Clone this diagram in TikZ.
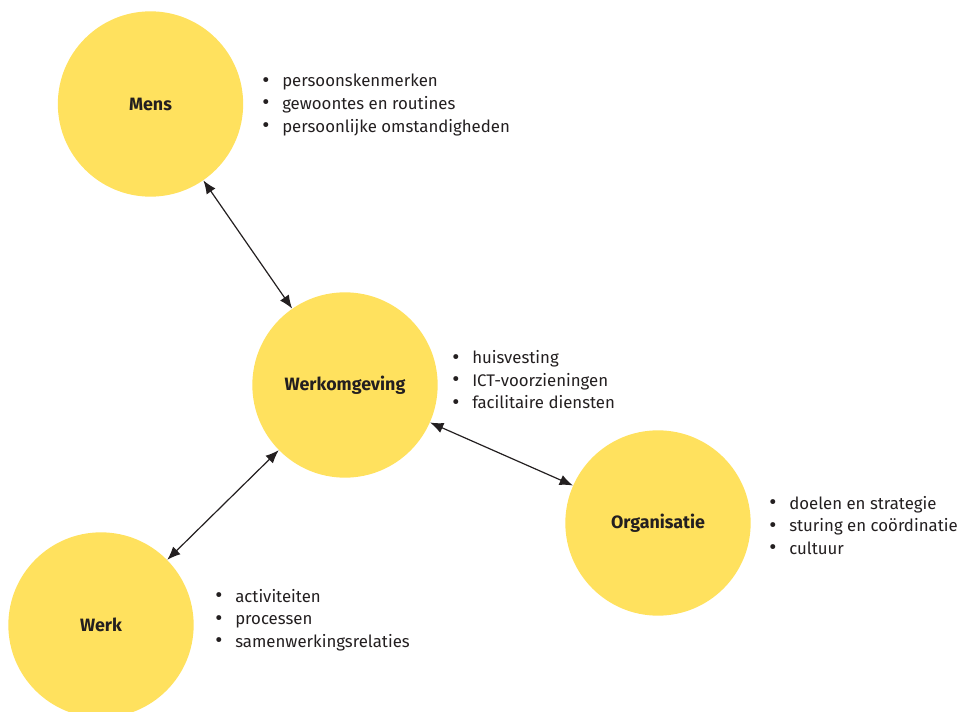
\documentclass[tikz,border=0pt]{standalone}
\usepackage{fontspec}
\setmainfont{Fira Sans}
\usepackage{xcolor}
\usetikzlibrary{arrows.meta,positioning}
\definecolor{mYellow}{RGB}{255,225,94}
\definecolor{mInk}{RGB}{35,31,32}
\newcommand{\li}{\makebox[15pt][l]{\raisebox{-0.3pt}{\scalebox{1.3}{\textbullet}}}}
\tikzset{
bubble/.style={circle,fill=mYellow,draw=none,minimum size=139pt,inner sep=0pt,font=\bfseries\fontsize{13.4}{16}\selectfont,text=mInk},
itemlist/.style={anchor=west,align=left,inner sep=0pt,font=\fontsize{12.6}{16.9}\selectfont,text=mInk},
link/.style={{Latex[length=10pt,width=8pt]}-{Latex[length=10pt,width=8pt]},line width=0.9pt,draw=mInk}
}
\begin{document}
\begin{tikzpicture}[x=0.75pt,y=-0.75pt]
\useasboundingbox (0,0) rectangle (961,712);
\node[bubble] (mens) at (150.5,104) {Mens};
\node[bubble] (omgeving) at (345,385) {Werkomgeving};
\node[bubble] (organisatie) at (658,523) {Organisatie};
\node[bubble] (werk) at (101,625) {Werk};
\node[itemlist] (mensitems) at (262,105) {\li persoonskenmerken\\\li gewoontes en routines\\\li persoonlijke omstandigheden};
\node[itemlist] (omgevingitems) at (452,380) {\li huisvesting\\\li ICT-voorzieningen\\\li facilitaire diensten};
\node[itemlist] (organisatieitems) at (769,525.5) {\li doelen en strategie\\\li sturing en coördinatie\\\li cultuur};
\node[itemlist] (werkitems) at (215,620) {\li activiteiten\\\li processen\\\li samenwerkingsrelaties};
\draw[link] (mens)--(omgeving);
\draw[link] (omgeving)--(organisatie);
\draw[link] (werk)--(omgeving);
\end{tikzpicture}
\end{document}
